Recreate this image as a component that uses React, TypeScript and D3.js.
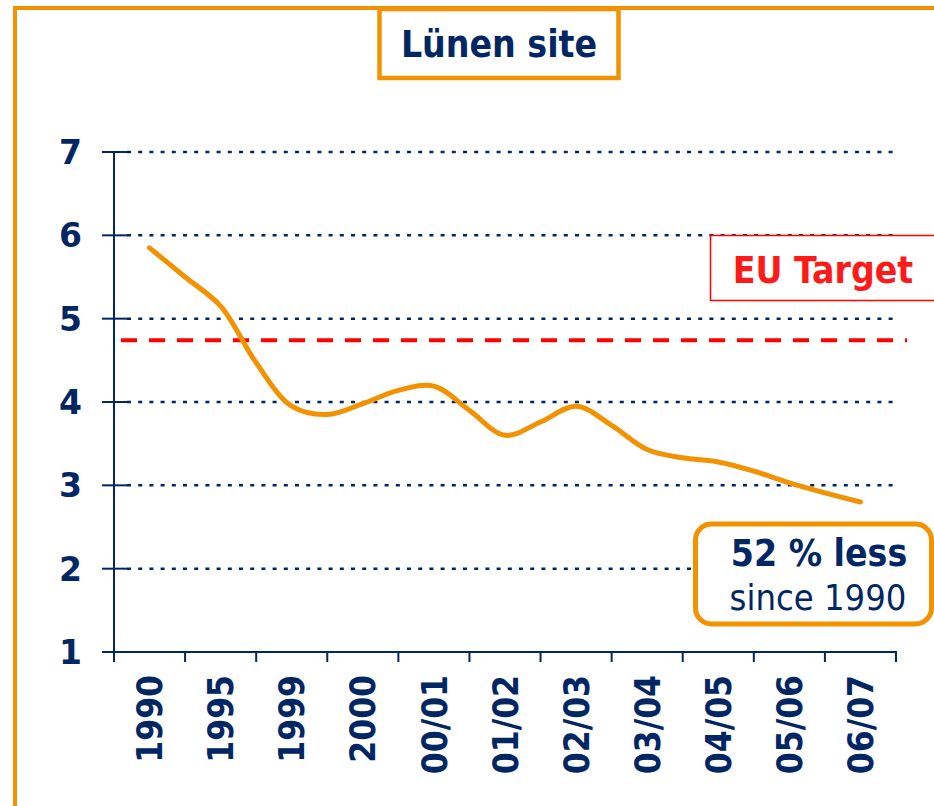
import React, { useEffect, useRef } from 'react';
import * as d3 from 'd3';

const categories = ['1990', '1995', '1999', '2000', '00/01', '01/02', '02/03', '03/04', '04/05', '05/06', '06/07'];
// values read at every category centre and halfway between neighbours
const lineValues = [
  5.85, 5.5, 5.15, 4.47, 3.95, 3.85, 3.98, 4.14, 4.19, 3.9, 3.6,
  3.76, 3.95, 3.72, 3.43, 3.33, 3.28, 3.17, 3.03, 2.91, 2.8,
];
const yTicks = [1, 2, 3, 4, 5, 6, 7];
const gridValues = [2, 3, 4, 5, 6, 7];
const euTarget = 4.74;

const NAVY = '#002664';
const ORANGE = '#f39200';
const RED = '#ff0000';
const COND = "'DejaVu Sans Condensed', 'DejaVu Sans', sans-serif";
const WIDE = "'DejaVu Sans', sans-serif";

export default function App() {
  const ref = useRef<SVGSVGElement>(null);

  useEffect(() => {
    const svg = d3.select(ref.current);
    svg.selectAll('*').remove();

    const x = d3.scaleBand().domain(categories).range([114, 896]).padding(0);
    const y = d3.scaleLinear().domain([1, 7]).range([652, 152]);
    const half = d3
      .scaleLinear()
      .domain([0, lineValues.length - 1])
      .range([x(categories[0])! + x.bandwidth() / 2, x(categories[categories.length - 1])! + x.bandwidth() / 2]);

    // outer frame
    svg.append('path')
      .attr('d', 'M15,806 L15,8 L934,8')
      .attr('fill', 'none')
      .attr('stroke', ORANGE)
      .attr('stroke-width', 4);

    // title box
    svg.append('rect')
      .attr('x', 379.5).attr('y', 9).attr('width', 239).attr('height', 69)
      .attr('fill', '#fff').attr('stroke', ORANGE).attr('stroke-width', 4.5);
    svg.append('text')
      .attr('x', 499).attr('y', 57)
      .attr('text-anchor', 'middle')
      .style('font-family', COND).style('font-weight', 'bold').style('font-size', '37px')
      .attr('fill', NAVY)
      .text('Lünen site');

    // grid
    svg.append('g').selectAll('line').data(gridValues).enter().append('line')
      .attr('x1', 127).attr('x2', 898)
      .attr('y1', (d) => y(d)).attr('y2', (d) => y(d))
      .attr('stroke', NAVY).attr('stroke-width', 2.5)
      .attr('stroke-dasharray', '4,7.2');

    // EU target
    svg.append('line')
      .attr('x1', 121).attr('x2', 907)
      .attr('y1', y(euTarget)).attr('y2', y(euTarget))
      .attr('stroke', RED).attr('stroke-width', 4)
      .attr('stroke-dasharray', '16,12');
    svg.append('rect')
      .attr('x', 710.5).attr('y', 235.5).attr('width', 240).attr('height', 65)
      .attr('fill', '#fff').attr('stroke', RED).attr('stroke-width', 1.5);
    svg.append('text')
      .attr('x', 823).attr('y', 283)
      .attr('text-anchor', 'middle')
      .style('font-family', COND).style('font-weight', 'bold').style('font-size', '37px')
      .attr('fill', '#ff1a1a')
      .text('EU Target');

    // y axis
    svg.append('line')
      .attr('x1', 114).attr('x2', 114).attr('y1', y(7)).attr('y2', y(1))
      .attr('stroke', NAVY).attr('stroke-width', 2);
    svg.append('g').selectAll('line').data(yTicks).enter().append('line')
      .attr('x1', 102).attr('x2', 127)
      .attr('y1', (d) => y(d)).attr('y2', (d) => y(d))
      .attr('stroke', NAVY).attr('stroke-width', 2);
    svg.append('g').selectAll('text').data(yTicks).enter().append('text')
      .attr('x', 82).attr('y', (d) => y(d)).attr('dy', '0.36em')
      .attr('text-anchor', 'end')
      .style('font-family', WIDE).style('font-weight', 'bold').style('font-size', '33px')
      .attr('fill', NAVY)
      .text((d) => d);

    // x axis
    svg.append('line')
      .attr('x1', 102).attr('x2', 897).attr('y1', y(1)).attr('y2', y(1))
      .attr('stroke', NAVY).attr('stroke-width', 2);
    const bounds = categories.map((c) => x(c)!).concat([x.range()[1]]);
    svg.append('g').selectAll('line').data(bounds).enter().append('line')
      .attr('x1', (d) => d).attr('x2', (d) => d)
      .attr('y1', y(1)).attr('y2', y(1) + 10)
      .attr('stroke', NAVY).attr('stroke-width', 2);
    svg.append('g').selectAll('text').data(categories).enter().append('text')
      .attr('transform', (d) => `translate(${x(d)! + x.bandwidth() / 2},675) rotate(-90)`)
      .attr('dy', '0.36em')
      .attr('text-anchor', 'end')
      .style('font-family', COND).style('font-weight', 'bold').style('font-size', '35px')
      .attr('fill', NAVY)
      .text((d) => d);

    // emission line
    const line = d3.line<number>()
      .x((d, i) => half(i))
      .y((d) => y(d))
      .curve(d3.curveCatmullRom.alpha(0.5));
    svg.append('path')
      .datum(lineValues)
      .attr('d', line)
      .attr('fill', 'none')
      .attr('stroke', ORANGE)
      .attr('stroke-width', 5)
      .attr('stroke-linecap', 'round');

    // annotation box
    svg.append('rect')
      .attr('x', 695.5).attr('y', 524).attr('width', 236).attr('height', 100).attr('rx', 16)
      .attr('fill', '#fff').attr('stroke', ORANGE).attr('stroke-width', 5);
    svg.append('text')
      .attr('x', 819).attr('y', 566)
      .attr('text-anchor', 'middle')
      .style('font-family', COND).style('font-weight', 'bold').style('font-size', '37px')
      .attr('fill', NAVY)
      .text('52 % less');
    svg.append('text')
      .attr('x', 818).attr('y', 610)
      .attr('text-anchor', 'middle')
      .style('font-family', COND).style('font-size', '36px')
      .attr('fill', NAVY)
      .text('since 1990');
  }, []);

  return (
    <svg
      ref={ref}
      width={934}
      height={806}
      style={{ position: 'absolute', left: 0, top: 0, background: '#fff' }}
    />
  );
}
